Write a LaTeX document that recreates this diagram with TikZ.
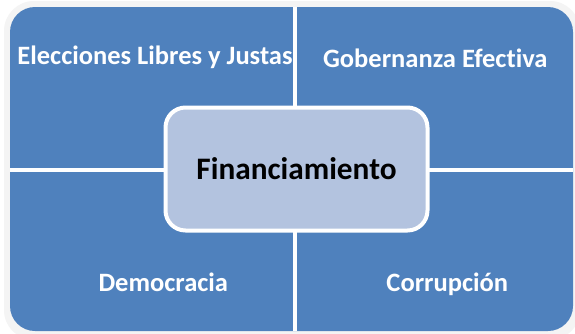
\documentclass[tikz,border=0pt]{standalone}
\usepackage{fontspec}
\setmainfont{Carlito}[RawFeature=-liga]
\definecolor{quadblue}{HTML}{4F81BD}
\definecolor{centerblue}{HTML}{B3C3DF}
\definecolor{framegray}{HTML}{F4F4F4}
\begin{document}
\begin{tikzpicture}[x=1pt,y=-1pt,
  quadlabel/.style={font=\fontsize{26.5}{30}\selectfont\bfseries, text=white, anchor=base, inner sep=0pt},
  centerbox/.style={draw=white, line width=4pt, fill=centerblue, rounded corners=20pt,
    minimum width=262pt, minimum height=123pt, text height=20pt, text depth=0pt,
    font=\fontsize{31.3}{36}\selectfont\bfseries, text=black}]
\useasboundingbox (0,0) rectangle (575,333);
\fill[white] (0,0) rectangle (575,333);
\fill[framegray, rounded corners=30pt] (4,1) rectangle (580,340);
\fill[quadblue, rounded corners=25pt] (10,7) rectangle (573,331);
\node[quadlabel] (q1) at (155,64.3) {Elecciones Libres y Justas};
\node[quadlabel] (q2) at (435.3,67.3) {Gobernanza Efectiva};
\node[quadlabel] (q3) at (163.3,291.7) {Democracia};
\node[quadlabel] (q4) at (447.3,291.7) {Corrupción};
\draw[white, line width=4pt] (295,7) -- (295,331);
\draw[white, line width=4pt] (10,170) -- (573,170);
\node[centerbox] (fin) at (296.5,169) {Financiamiento};
\end{tikzpicture}
\end{document}
